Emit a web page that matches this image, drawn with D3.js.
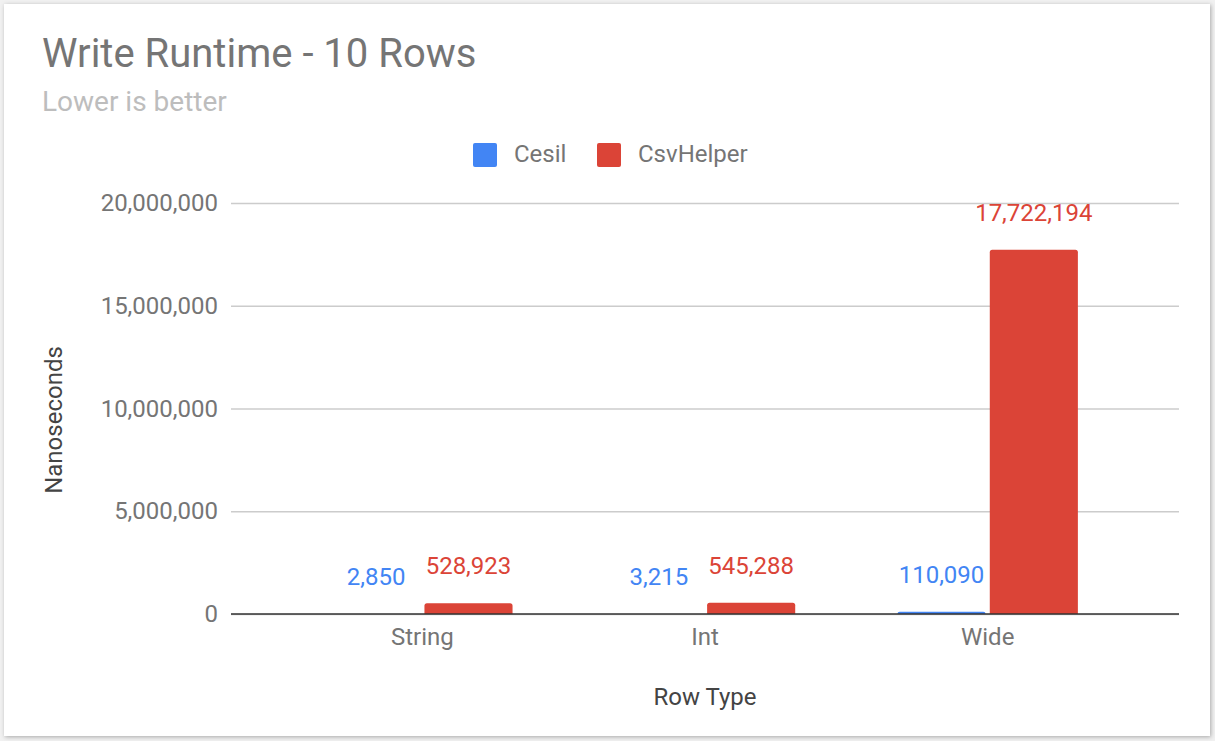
<!DOCTYPE html>
<html>
<head>
<meta charset="utf-8">
<script src="https://cdn.jsdelivr.net/npm/d3@7"></script>
<style>
  html, body { margin: 0; padding: 0; background: #fff; }
  svg { display: block; font-family: Roboto, "Noto Sans", sans-serif; }
</style>
</head>
<body>
<svg id="chart" width="1215" height="741"></svg>
<script>
const categories = ["String", "Int", "Wide"];
const seriesNames = ["Cesil", "CsvHelper"];
const cesil = [2850, 3215, 110090];
const csvHelper = [528923, 545288, 17722194];
const yTicks = [0, 5000000, 10000000, 15000000, 20000000];
const colors = ["#4285F4", "#DB4437"];
const titleText = "Write Runtime - 10 Rows";
const subtitleText = "Lower is better";
const xTitle = "Row Type";
const yTitle = "Nanoseconds";

const seriesValues = [cesil, csvHelper];
const rows = categories.map((c, i) => ({cat: c, vals: seriesNames.map((s, j) => ({series: s, idx: j, value: seriesValues[j][i]}))}));

const svg = d3.select("#chart");
const W = 1215, H = 741;

// card with shadow
const defs = svg.append("defs");
const f = defs.append("filter").attr("id", "sh").attr("x", "-5%").attr("y", "-5%").attr("width", "110%").attr("height", "110%");
f.append("feDropShadow").attr("dx", 1).attr("dy", 1).attr("stdDeviation", 2).attr("flood-color", "#000").attr("flood-opacity", 0.3);
svg.append("rect").attr("width", W).attr("height", H).attr("fill", "#f1f1f1");
svg.append("rect").attr("x", 4).attr("y", 4).attr("width", 1206).attr("height", 732).attr("fill", "#fff").attr("filter", "url(#sh)");

const plotLeft = 231, plotRight = 1179;
const y = d3.scaleLinear().domain([0, 20000000]).range([614, 203]);
const x0 = d3.scaleBand().domain(categories).range([281, 1129]).paddingInner(102 / 282).paddingOuter(51 / 282);
const x1 = d3.scaleBand().domain(seriesNames).range([0, x0.bandwidth()]).paddingInner(1 - 88 / (x0.bandwidth() / (2 - 0.0435))).paddingOuter(0);

const FS = 24;

// title
svg.append("text").attr("x", 42).attr("y", 67).attr("font-size", 40).attr("fill", "#757575").text(titleText);
svg.append("text").attr("x", 42).attr("y", 111).attr("font-size", 28).attr("fill", "#bdbdbd").text(subtitleText);

// legend
const legendItems = [{x: 473, tx: 514}, {x: 597, tx: 638}];
seriesNames.forEach((s, i) => {
  svg.append("rect").attr("x", legendItems[i].x).attr("y", 143).attr("width", 24).attr("height", 24).attr("rx", 2).attr("fill", colors[i]);
  svg.append("text").attr("x", legendItems[i].tx).attr("y", 162).attr("font-size", FS).attr("fill", "#757575").text(s);
});

// grid + y axis
const fmt = d3.format(",");
const yAxis = d3.axisLeft(y).tickValues(yTicks).tickFormat(fmt).tickSize(-(plotRight - plotLeft)).tickPadding(13);
const gy = svg.append("g").attr("transform", `translate(${plotLeft},0)`).call(yAxis);
gy.select(".domain").remove();
gy.selectAll(".tick line").attr("stroke", "#cccccc").attr("stroke-width", 1.3);
gy.selectAll(".tick text").attr("font-size", FS).attr("fill", "#757575").attr("font-family", "Roboto");

// bars
const g = svg.append("g");
const groups = g.selectAll("g.cat").data(rows).join("g").attr("transform", d => `translate(${x0(d.cat)},0)`);
groups.selectAll("path").data(d => d.vals).join("path")
  .attr("fill", d => colors[d.idx])
  .attr("d", d => {
    const bx = x1(d.series), bw = x1.bandwidth();
    const top = y(d.value), bot = y(0);
    const h = bot - top;
    const r = Math.min(2.5, h);
    return `M${bx},${bot}V${top + r}Q${bx},${top} ${bx + r},${top}H${bx + bw - r}Q${bx + bw},${top} ${bx + bw},${top + r}V${bot}Z`;
  });
groups.selectAll("text").data(d => d.vals).join("text")
  .attr("x", d => x1(d.series) + x1.bandwidth() / 2)
  .attr("y", d => y(d.value) - 29)
  .attr("text-anchor", "middle").attr("font-size", FS)
  .attr("fill", d => colors[d.idx])
  .text(d => fmt(d.value));

// zero line
svg.append("line").attr("x1", plotLeft).attr("x2", plotRight).attr("y1", y(0)).attr("y2", y(0)).attr("stroke", "#333").attr("stroke-width", 1.6);

// x axis labels
const xAxis = d3.axisBottom(x0).tickSize(0).tickPadding(14);
const gx = svg.append("g").attr("transform", `translate(0,${y(0)})`).call(xAxis);
gx.select(".domain").remove();
gx.selectAll(".tick text").attr("font-size", FS).attr("fill", "#757575").attr("font-family", "Roboto");

// axis titles
svg.append("text").attr("x", 705).attr("y", 705).attr("text-anchor", "middle").attr("font-size", FS).attr("fill", "#444").text(xTitle);
svg.append("text").attr("transform", "translate(62,420) rotate(-90)").attr("text-anchor", "middle").attr("font-size", FS).attr("fill", "#444").text(yTitle);
</script>
</body>
</html>
